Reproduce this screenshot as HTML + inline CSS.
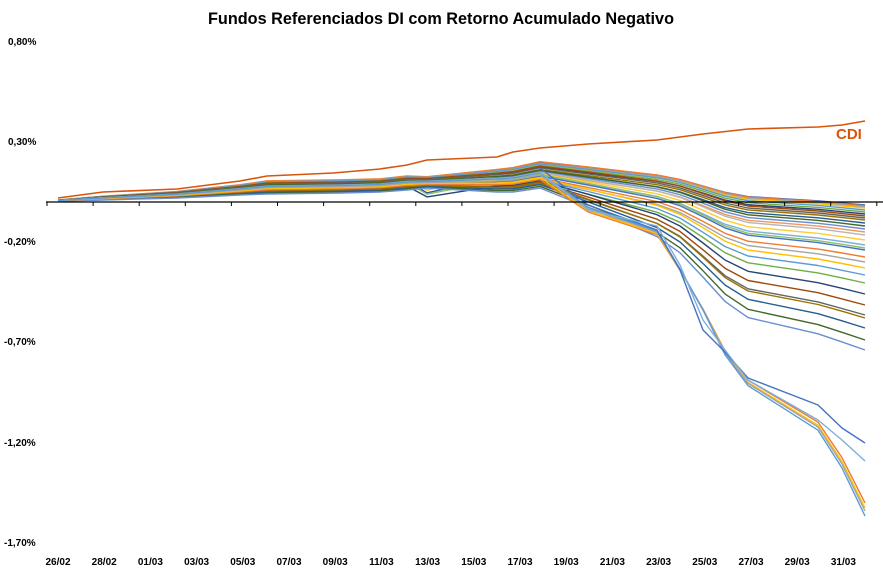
<!DOCTYPE html>
<html><head><meta charset="utf-8"><style>
html,body{margin:0;padding:0;background:#fff;width:883px;height:572px;overflow:hidden}
svg{display:block;font-family:"Liberation Sans",sans-serif}
</style></head><body>
<svg id="s" width="883" height="572" viewBox="0 0 883 572" xmlns="http://www.w3.org/2000/svg">
<rect width="883" height="572" fill="#fff"/>
<text x="441" y="24" text-anchor="middle" font-size="17" font-weight="bold" textLength="466" lengthAdjust="spacingAndGlyphs" fill="#000">Fundos Referenciados DI com Retorno Acumulado Negativo</text>
<g font-size="10" font-weight="bold" fill="#000">
<text x="8" y="45">0,80%</text>
<text x="8" y="145">0,30%</text>
<text x="4" y="245">-0,20%</text>
<text x="4" y="345">-0,70%</text>
<text x="4" y="446">-1,20%</text>
<text x="4" y="546">-1,70%</text>
</g>
<g font-size="10" font-weight="bold" fill="#000" text-anchor="middle" id="xl"></g>
<g id="ser" fill="none" stroke-width="1.4" stroke-linejoin="round"></g>
<line x1="46" y1="202" x2="883" y2="202" stroke="#000" stroke-width="1.2"/>
<g id="ticks" stroke="#000" stroke-width="1"></g>
<polyline fill="none" stroke="#D9540C" stroke-width="1.6" points="58,198 103,192 177,189 240,181 267,176 333,173 380,169 407,165 427,160 497,157 513,152 540,148 588,144 657,140 703,134 748,129 818,127 842,125 865,121"/>
<text x="836" y="139" font-size="15" font-weight="bold" fill="#D9540C">CDI</text>
</svg>
<script>
var NS="http://www.w3.org/2000/svg";
var labs=["26/02","28/02","01/03","03/03","05/03","07/03","09/03","11/03","13/03","15/03","17/03","19/03","21/03","23/03","25/03","27/03","29/03","31/03"];
var xl=document.getElementById("xl");
labs.forEach(function(l,i){var t=document.createElementNS(NS,"text");t.setAttribute("x",58+i*46.2);t.setAttribute("y",565);t.textContent=l;xl.appendChild(t);});
var tk=document.getElementById("ticks");
for(var i=0;i<19;i++){var x=47+i*46.1;var l=document.createElementNS(NS,"line");l.setAttribute("x1",x);l.setAttribute("x2",x);l.setAttribute("y1",202);l.setAttribute("y2",206);tk.appendChild(l);}
var X1=[58,103,177,240,267,340,380,407,427,497,513,540];
var TOP=[2,6,11,18,22,23,24,27,26,34,36,42];
var BOT=[1,2,4,7,8,9,10,12,14,10,10,14];
var X2=[588,657,680,703,725,748,818,842,865];
var MOD=[0.12,0.3,0.4,0.55,0.7,0.8,0.9,0.95,1];
var CR=[0.1,0.17,0.28,0.4,0.53,0.62,0.75,0.86,1];
var cols=["#4472C4","#ED7D31","#A5A5A5","#FFC000","#5B9BD5","#70AD47","#264478","#9E480E","#636363","#997300","#255E91","#43682B","#698ED0","#F1975A","#B7B7B7","#FFCD33","#7CAFDD","#8CC168"];
var fins=[205,206,207,208,210,212,214,216,218,220,223,226,229,232,235,240,245,248,250,257,262,268,275,283,294,305,315,318,328,340,350];
var g=document.getElementById("ser");
function add(pts,c){var p=document.createElementNS(NS,"polyline");p.setAttribute("points",pts.map(function(a){return a[0].toFixed(1)+","+a[1].toFixed(1)}).join(" "));p.setAttribute("stroke",c);g.appendChild(p);}
var n=fins.length;
fins.forEach(function(f,k){
  var L=1-k/(n-1); L=Math.min(1,Math.max(0,L*0.9+((k*37)%10)/100));
  var pts=[];
  for(var i=0;i<X1.length;i++){var h=BOT[i]+(TOP[i]-BOT[i])*L; if(i==8&&k%7==3)h-=12; pts.push([X1[i],202-h]);}
  var y0=pts[pts.length-1][1];
  for(var j=0;j<X2.length;j++){pts.push([X2[j],y0+(f-y0)*MOD[j]]);}
  add(pts,cols[k%cols.length]);
});
[[503,"#ED7D31"],[508,"#FFC000"],[511,"#A5A5A5"],[516,"#5B9BD5"]].forEach(function(c,k){
  var pts=[];var L=0.3+k*0.08;
  for(var i=0;i<X1.length;i++){var h=BOT[i]+(TOP[i]-BOT[i])*L;pts.push([X1[i],202-h]);}
  var y0=pts[pts.length-1][1];
  for(var j=0;j<X2.length;j++){pts.push([X2[j],y0+(c[0]-y0)*CR[j]]);}
  add(pts,c[1]);
});
add([[540,168],[588,205],[657,230],[680,270],[703,330],[725,352],[748,378],[818,405],[842,428],[865,443]],"#4472C4");
add([[540,172],[588,210],[657,226],[680,265],[703,320],[725,350],[748,380],[818,420],[842,440],[865,461]],"#7CAFDD");
</script>
</body></html>
